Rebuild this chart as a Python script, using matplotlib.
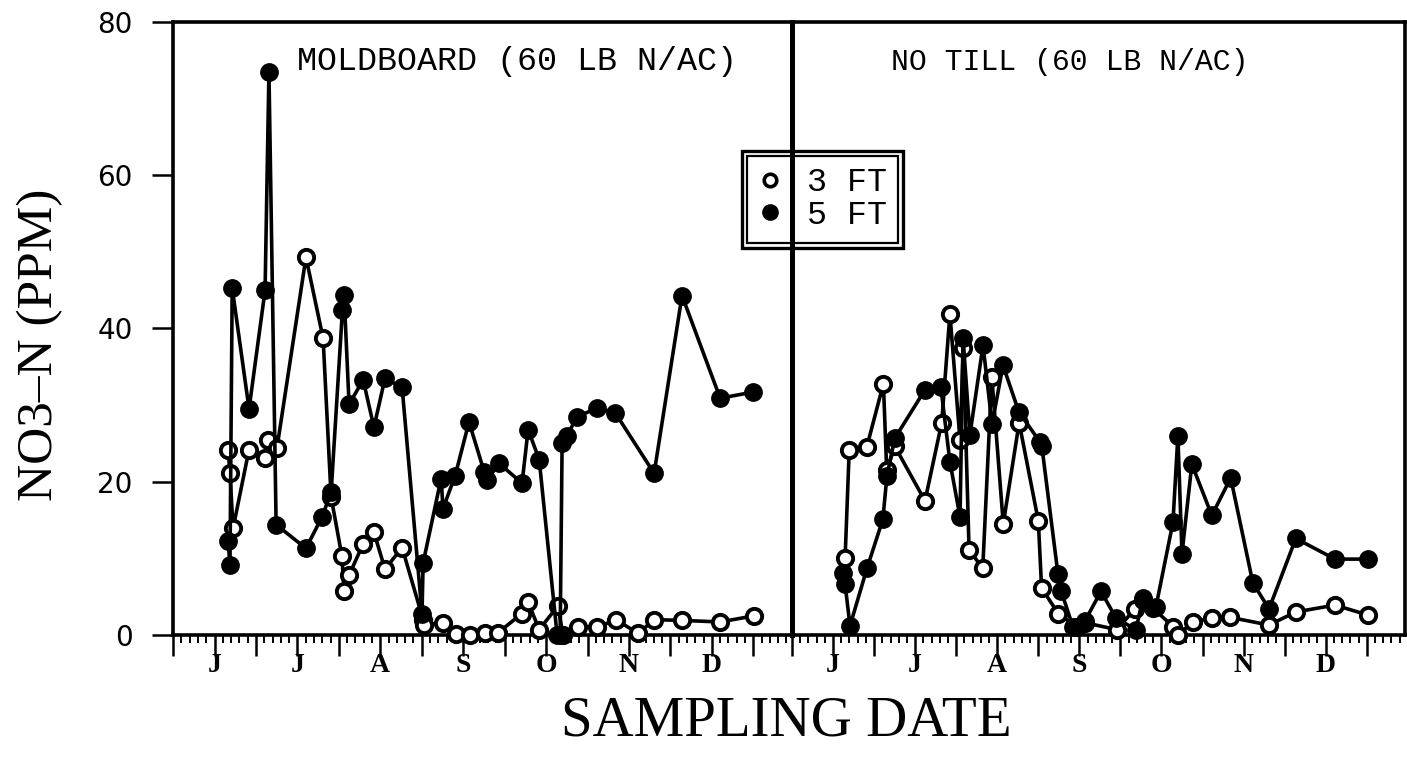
import numpy as np
import matplotlib
matplotlib.use("Agg")
import matplotlib.pyplot as plt
from matplotlib.ticker import FixedLocator, MultipleLocator
from matplotlib.patches import Rectangle

# days since June 1 and NO3-N values
mb_day_5 = [19.9, 20.6, 21.4, 27.5, 33.3, 34.7, 37.3, 48.1, 53.9, 57.2, 61.3, 61.9, 63.7,
            68.8, 72.7, 76.7, 82.9, 90.1, 90.5, 97.0, 97.7, 102.1, 107.1, 112.6, 113.6,
            118.0, 126.3, 128.5, 132.5, 139.0, 140.1, 140.8, 142.6, 146.2, 153.5, 160.0,
            174.1, 184.2, 198.0, 209.9]
mb_5ft = [12.3, 9.1, 45.3, 29.5, 45.0, 73.5, 14.4, 11.3, 15.4, 18.6, 42.4, 44.4, 30.1,
          33.3, 27.1, 33.5, 32.3, 2.8, 9.4, 20.4, 16.5, 20.8, 27.8, 21.3, 20.2,
          22.4, 19.8, 26.8, 22.9, 0.0, 0.0, 25.1, 26.0, 28.5, 29.6, 29.0,
          21.1, 44.3, 30.9, 31.7]

mb_day_3 = [19.9, 20.6, 21.7, 27.5, 33.3, 34.4, 37.6, 48.1, 54.3, 57.2, 61.1, 61.9, 63.7,
            68.8, 72.7, 76.7, 82.9, 90.5, 90.8, 97.7, 102.4, 107.5, 112.9, 117.6,
            126.3, 128.5, 132.5, 139.3, 141.1, 146.6, 153.5, 160.3, 168.3, 174.1,
            184.2, 198.0, 210.3]
mb_3ft = [24.1, 21.2, 13.9, 24.2, 23.1, 25.4, 24.4, 49.3, 38.7, 18.0, 10.3, 5.7, 7.8,
          11.9, 13.4, 8.6, 11.4, 2.0, 1.3, 1.6, 0.1, 0.0, 0.2, 0.3,
          2.8, 4.3, 0.7, 3.8, 0.0, 1.1, 1.0, 2.0, 0.2, 2.0,
          1.9, 1.7, 2.5]

nt_day_5 = [18.6, 19.4, 21.2, 27.4, 33.2, 34.7, 37.6, 48.6, 54.4, 57.7, 61.4, 62.5, 65.0,
            69.8, 73.1, 77.1, 82.9, 90.6, 91.3, 97.2, 98.3, 102.7, 107.0, 112.9, 118.4,
            125.7, 128.2, 133.0, 139.2, 141.0, 142.5, 146.1, 153.4, 160.3, 168.4, 174.3,
            184.1, 198.4, 210.5]
nt_5ft = [8.1, 6.6, 1.2, 8.7, 15.1, 20.8, 25.7, 32.0, 32.3, 22.6, 15.4, 38.8, 26.1,
          37.8, 27.5, 35.2, 29.1, 25.2, 24.6, 7.9, 5.8, 1.0, 1.8, 5.7, 2.2,
          0.7, 4.8, 3.7, 14.7, 26.0, 10.6, 22.3, 15.6, 20.5, 6.8, 3.4,
          12.6, 9.9, 9.9]

nt_day_3 = [19.4, 20.9, 27.3, 33.4, 34.6, 37.6, 48.6, 54.7, 57.7, 61.4, 62.6, 64.7, 69.7,
            73.0, 77.2, 83.0, 90.0, 91.2, 97.3, 104.1, 107.0, 118.7, 125.3, 128.2, 131.9,
            139.2, 141.0, 146.5, 153.4, 160.0, 174.3, 184.1, 198.4, 210.5]
nt_3ft = [10.0, 24.1, 24.5, 32.8, 21.5, 24.6, 17.5, 27.7, 41.9, 25.4, 37.4, 11.1, 8.7,
          33.7, 14.5, 27.7, 14.9, 6.1, 2.8, 1.0, 1.6, 0.7, 3.4, 4.5, 3.5,
          1.1, 0.0, 1.7, 2.2, 2.3, 1.3, 3.0, 3.9, 2.6]

month_letters = ['J', 'J', 'A', 'S', 'O', 'N', 'D']
titles = ['MOLDBOARD (60 LB N/AC)', 'NO TILL (60 LB N/AC)']

mono = ['Liberation Mono', 'DejaVu Sans Mono']
serif = ['Liberation Serif', 'DejaVu Serif']

fig = plt.figure(figsize=(14.07, 7.72), dpi=100)
ax1 = fig.add_axes([0.1230, 0.1775, 0.4399, 0.7940])
ax2 = fig.add_axes([0.5629, 0.1775, 0.4357, 0.7940])
ax2.patch.set_alpha(0)

panels = [(ax1, mb_day_3, mb_3ft, mb_day_5, mb_5ft),
          (ax2, nt_day_3, nt_3ft, nt_day_5, nt_5ft)]

major = np.arange(0, 211, 15)
labels = []
for i, m in enumerate(major):
    if i % 2 == 1 and i // 2 < len(month_letters):
        labels.append(month_letters[i // 2])
    else:
        labels.append('')

title_pos = [(0.556, 24), (0.4535, 21.5)]

for k, (ax, d3, v3, d5, v5) in enumerate(panels):
    ax.plot(d3, v3, '-o', color='black', lw=2.6, ms=11, mew=2.8,
            mfc='white', mec='black', zorder=3, clip_on=False)
    ax.plot(d5, v5, '-o', color='black', lw=2.6, ms=12.5, mfc='black',
            mec='black', zorder=4, clip_on=False)
    ax.set_xlim(0, 224)
    ax.set_ylim(0, 80)
    for s in ax.spines.values():
        s.set_linewidth(2.6)
    ax.xaxis.set_major_locator(FixedLocator(major))
    ax.xaxis.set_minor_locator(MultipleLocator(3))
    ax.set_xticklabels(labels)
    ax.tick_params(axis='x', which='major', direction='out', length=15, width=1.8, pad=-2)
    ax.tick_params(axis='x', which='minor', direction='out', length=5.5, width=1.4)
    for t in ax.get_xticklabels():
        t.set_fontfamily(serif)
        t.set_fontweight('bold')
        t.set_fontsize(20)
    ax.text(title_pos[k][0], 0.935, titles[k], transform=ax.transAxes,
            ha='center', va='center', fontsize=title_pos[k][1], family=mono)

ax1.spines['right'].set_linewidth(3.6)
ax2.spines['left'].set_visible(False)
ax1.yaxis.set_major_locator(FixedLocator([0, 20, 40, 60, 80]))
ax1.tick_params(axis='y', direction='out', length=15, width=1.8, pad=14, labelsize=20)
ax2.tick_params(axis='y', left=False, labelleft=False)

ax1.set_ylabel('NO3\u2013N (PPM)', family=serif, fontsize=37)
ax1.yaxis.set_label_coords(-0.178, 0.473)
fig.text(0.559, 0.065, 'SAMPLING DATE', ha='center', va='center', family=serif, fontsize=41)

h3, = ax1.plot([], [], 'o', ms=9, mew=2.6, mfc='white', mec='black')
h5, = ax1.plot([], [], 'o', ms=11, mfc='black', mec='black')
leg = fig.legend([h3, h5], ['3 FT', '5 FT'], loc='center',
                 bbox_to_anchor=(0.5846, 0.7422), prop={'family': mono, 'size': 24},
                 frameon=True, fancybox=False, framealpha=1, handlelength=0.7,
                 handletextpad=0.75, borderpad=0.35, labelspacing=0.05)
leg.get_frame().set_facecolor('none')
leg.get_frame().set_edgecolor('black')
leg.get_frame().set_linewidth(1.6)

fig.canvas.draw()
bb = leg.get_frame().get_window_extent()
W, H = fig.bbox.width, fig.bbox.height
pad = 5
fig.add_artist(Rectangle(((bb.x0 - pad) / W, (bb.y0 - pad) / H),
                         (bb.width + 2 * pad) / W, (bb.height + 2 * pad) / H,
                         transform=fig.transFigure, fill=False, ec='black', lw=2.4))

fig.savefig('out.png', dpi=100)
